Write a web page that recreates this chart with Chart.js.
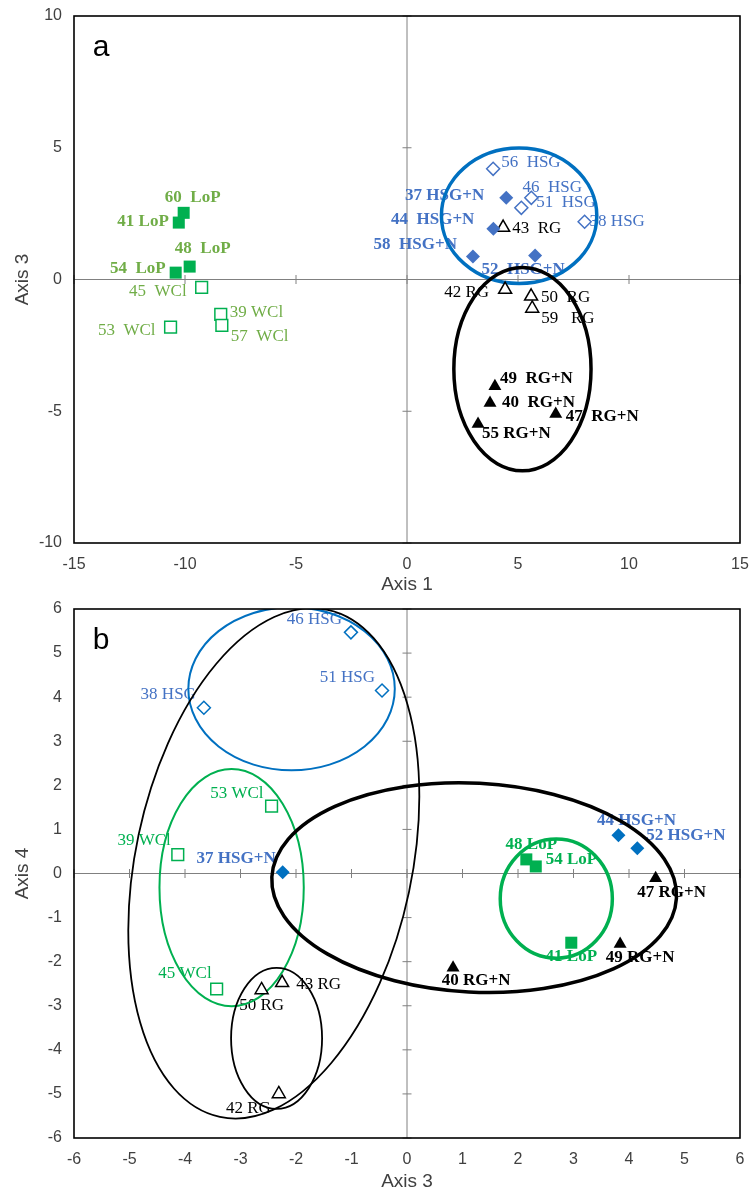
<!DOCTYPE html>
<html>
<head>
<meta charset="utf-8">
<script src="https://cdn.jsdelivr.net/npm/chart.js@4.4.1/dist/chart.umd.min.js"></script>
<style>
    body { margin: 0; background: #fff; width: 751px; height: 1192px; overflow: hidden; }
    .panel { position: absolute; left: 0; width: 751px; }
    #wrapA { top: 0; height: 595px; }
    #wrapB { top: 595px; height: 597px; }
</style>
</head>
<body>
<div class="panel" id="wrapA"><canvas id="chartA" width="751" height="595"></canvas></div>
<div class="panel" id="wrapB"><canvas id="chartB" width="751" height="597"></canvas></div>
<script>
// ---- panel a: Axis 1 vs Axis 3 ----
const aLoPLabels = ['60  LoP', '41 LoP', '48  LoP', '54  LoP'];
const aLoPAxis1 = [-10.06, -10.28, -9.79, -10.42];
const aLoPAxis3 = [2.53, 2.16, 0.49, 0.26];

const aWClLabels = ['45  WCl', '39 WCl', '57  WCl', '53  WCl'];
const aWClAxis1 = [-9.25, -8.39, -8.34, -10.65];
const aWClAxis3 = [-0.3, -1.32, -1.74, -1.81];

const aHSGLabels = ['56  HSG', '46  HSG', '51  HSG', '38 HSG'];
const aHSGAxis1 = [3.88, 5.6, 5.15, 8.0];
const aHSGAxis3 = [4.2, 3.1, 2.72, 2.19];

const aHSGNLabels = ['37 HSG+N', '44  HSG+N', '58  HSG+N', '52  HSG+N'];
const aHSGNAxis1 = [4.47, 3.89, 2.97, 5.77];
const aHSGNAxis3 = [3.1, 1.93, 0.87, 0.91];

const aRGLabels = ['43  RG', '42 RG', '50  RG', '59   RG'];
const aRGAxis1 = [4.33, 4.42, 5.59, 5.64];
const aRGAxis3 = [1.97, -0.38, -0.64, -1.1];

const aRGNLabels = ['49  RG+N', '40  RG+N', '47  RG+N', '55 RG+N'];
const aRGNAxis1 = [3.96, 3.74, 6.7, 3.2];
const aRGNAxis3 = [-4.05, -4.69, -5.1, -5.48];

// ellipses: centre x, centre y, half width, half height (data units), tilt in degrees
const aEllipseHSG = [5.05, 2.42, 3.5, 2.57, 0];
const aEllipseRG = [5.2, -3.4, 3.09, 3.86, 0];

// ---- panel b: Axis 3 vs Axis 4 ----
const bHSGLabels = ['46 HSG', '51 HSG', '38 HSG'];
const bHSGAxis3 = [-1.01, -0.45, -3.66];
const bHSGAxis4 = [5.47, 4.15, 3.76];

const bWClLabels = ['53 WCl', '39 WCl', '45 WCl'];
const bWClAxis3 = [-2.44, -4.13, -3.43];
const bWClAxis4 = [1.53, 0.43, -2.62];

const bHSGNLabels = ['37 HSG+N', '44 HSG+N', '52 HSG+N'];
const bHSGNAxis3 = [-2.24, 3.81, 4.15];
const bHSGNAxis4 = [0.03, 0.87, 0.57];

const bRGLabels = ['50 RG', '43 RG', '42 RG'];
const bRGAxis3 = [-2.62, -2.25, -2.31];
const bRGAxis4 = [-2.64, -2.48, -5.0];

const bLoPLabels = ['48 LoP', '54 LoP', '41 LoP'];
const bLoPAxis3 = [2.15, 2.32, 2.96];
const bLoPAxis4 = [0.32, 0.16, -1.57];

const bRGNLabels = ['47 RG+N', '49 RG+N', '40 RG+N'];
const bRGNAxis3 = [4.48, 3.84, 0.83];
const bRGNAxis4 = [-0.11, -1.6, -2.14];

const bEllipseHSG = [-2.08, 4.19, 1.86, 1.85, 0];
const bEllipseWCl = [-3.16, -0.32, 1.3, 2.69, 0];
const bEllipseRG = [-2.35, -3.74, 0.82, 1.6, 0];
const bEllipseBig = [-2.4, 0.23, 2.49, 5.88, 12];
const bEllipseN = [1.21, -0.32, 3.65, 2.37, 3];
const bEllipseLoP = [2.69, -0.57, 1.01, 1.35, 0];

// label placement next to each point: dx, dy (px), alignment
const aLoPPos = [[9, -15, 'center'], [-10, -1, 'right'], [13, -18, 'center'], [-10, -4, 'right']];
const aWClPos = [[-15, 4, 'right'], [9, -2, 'left'], [9, 11, 'left'], [-15, 3, 'right']];
const aHSGPos = [[8, -6, 'left'], [21, -10, 'center'], [15, -5, 'left'], [5, 0, 'left']];
const aHSGNPos = [[-22, -2, 'right'], [-19, -9, 'right'], [-16, -12, 'right'], [-12, 14, 'center']];
const aRGPos = [[9, 1, 'left'], [-16, 3, 'right'], [10, 1, 'left'], [9, 10, 'left']];
const aRGNPos = [[5, -8, 'left'], [12, 0, 'left'], [10, 3, 'left'], [4, 10, 'left']];

const bHSGPos = [[-9, -13, 'right'], [-7, -13, 'right'], [-8, -13, 'right']];
const bWClPos = [[-8, -13, 'right'], [-7, -14, 'right'], [-5, -15, 'right']];
const bHSGNPos = [[-7, -14, 'right'], [18, -15, 'center'], [9, -13, 'left']];
const bRGPos = [[0, 16, 'center'], [14, 2, 'left'], [-8, 15, 'right']];
const bLoPPos = [[5, -15, 'center'], [10, -7, 'left'], [0, 14, 'center']];
const bRGNPos = [[16, 14, 'center'], [20, 14, 'center'], [23, 13, 'center']];

const GREEN = '#00B050';
const GREEN_TXT = '#70AD47';
const BLUE = '#4472C4';
const BLUE_DARK = '#0070C0';

function pts(xs, ys) {
    return xs.map((v, i) => ({ x: v, y: ys[i] }));
}

function group(xs, ys, labels, pos, style) {
    return Object.assign({
        data: pts(xs, ys),
        pointLabels: labels,
        labelPos: pos,
        showLine: false
    }, style);
}

const filledSquare = (c) => ({ pointStyle: 'rect', pointRadius: 8.5, pointBackgroundColor: c, pointBorderColor: c, pointBorderWidth: 0 });
const openSquare = (c) => ({ pointStyle: 'rect', pointRadius: 8.3, pointBackgroundColor: '#fff', pointBorderColor: c, pointBorderWidth: 1.5 });
const filledDiamond = (c) => ({ pointStyle: 'rectRot', pointRadius: 7, pointBackgroundColor: c, pointBorderColor: c, pointBorderWidth: 0 });
const openDiamond = (c) => ({ pointStyle: 'rectRot', pointRadius: 6.5, pointBackgroundColor: '#fff', pointBorderColor: c, pointBorderWidth: 1.5 });
const filledTriangle = { pointStyle: 'triangle', pointRadius: 7.5, pointBackgroundColor: '#000', pointBorderColor: '#000', pointBorderWidth: 0 };
const openTriangle = { pointStyle: 'triangle', pointRadius: 7.5, pointBackgroundColor: '#fff', pointBorderColor: '#000', pointBorderWidth: 1.5 };

// zero lines, cross ticks, labels, ellipses, frame, panel letter
const plotDecor = {
    id: 'plotDecor',
    beforeDatasetsDraw(chart, args, opts) {
        const { ctx, chartArea: a, scales: { x, y } } = chart;
        const x0 = x.getPixelForValue(0);
        const y0 = y.getPixelForValue(0);
        ctx.save();
        ctx.strokeStyle = '#808080';
        ctx.lineWidth = 1;
        ctx.beginPath();
        ctx.moveTo(a.left, y0); ctx.lineTo(a.right, y0);
        ctx.moveTo(x0, a.top); ctx.lineTo(x0, a.bottom);
        x.ticks.forEach(t => {
            const px = x.getPixelForValue(t.value);
            ctx.moveTo(px, y0 - 4.5); ctx.lineTo(px, y0 + 4.5);
        });
        y.ticks.forEach(t => {
            const py = y.getPixelForValue(t.value);
            ctx.moveTo(x0 - 4.5, py); ctx.lineTo(x0 + 4.5, py);
        });
        ctx.stroke();

        // point labels
        ctx.textBaseline = 'middle';
        chart.data.datasets.forEach(ds => {
            ctx.fillStyle = ds.labelColor;
            ctx.font = (ds.labelBold ? 'bold ' : '') + '17px "Liberation Serif", "Times New Roman", serif';
            ds.data.forEach((p, i) => {
                const [dx, dy, al] = ds.labelPos[i];
                ctx.textAlign = al;
                ctx.fillText(ds.pointLabels[i], x.getPixelForValue(p.x) + dx, y.getPixelForValue(p.y) + dy);
            });
        });

        // ellipses
        ctx.beginPath();
        ctx.rect(a.left, a.top, a.right - a.left, a.bottom - a.top);
        ctx.clip();
        opts.ellipses.forEach(e => {
            const [cx, cy, rx, ry, rot] = e.shape;
            const px = x.getPixelForValue(cx);
            const py = y.getPixelForValue(cy);
            const rpx = Math.abs(x.getPixelForValue(cx + rx) - px);
            const rpy = Math.abs(y.getPixelForValue(cy + ry) - py);
            ctx.beginPath();
            ctx.ellipse(px, py, rpx, rpy, rot * Math.PI / 180, 0, Math.PI * 2);
            ctx.strokeStyle = e.color;
            ctx.lineWidth = e.width;
            ctx.stroke();
        });
        ctx.restore();
    },
    afterDraw(chart, args, opts) {
        const { ctx, chartArea: a } = chart;
        ctx.save();
        ctx.strokeStyle = '#000';
        ctx.lineWidth = 1.6;
        ctx.strokeRect(a.left, a.top, a.right - a.left, a.bottom - a.top);
        ctx.fillStyle = '#000';
        ctx.font = '30px "Liberation Sans", Arial, sans-serif';
        ctx.textAlign = 'center';
        ctx.textBaseline = 'middle';
        ctx.fillText(opts.letter, a.left + 27, a.top + 32);
        ctx.restore();
    }
};

function makeChart(canvasId, datasets, cfg) {
    const tickFont = { family: '"Liberation Sans", Arial, sans-serif', size: 16 };
    const titleFont = { family: '"Liberation Sans", Arial, sans-serif', size: 19, lineHeight: 1 };
    return new Chart(document.getElementById(canvasId), {
        type: 'scatter',
        data: { datasets: datasets },
        options: {
            responsive: false,
            animation: false,
            events: [],
            layout: { padding: { top: cfg.top, right: 11, left: 0, bottom: 0 } },
            plugins: {
                legend: { display: false },
                tooltip: { enabled: false },
                plotDecor: { letter: cfg.letter, ellipses: cfg.ellipses }
            },
            scales: {
                x: {
                    type: 'linear',
                    min: cfg.xMin, max: cfg.xMax,
                    afterFit: (s) => { s.height = cfg.xHeight; s.paddingLeft = 0; s.paddingRight = 0; },
                    grid: { display: false, drawTicks: false },
                    border: { display: false },
                    ticks: { stepSize: cfg.xStep, font: tickFont, color: '#404040', padding: 12 },
                    title: { display: true, text: cfg.xTitle, font: titleFont, color: '#404040', padding: { top: 0, bottom: 1 } }
                },
                y: {
                    type: 'linear',
                    min: cfg.yMin, max: cfg.yMax,
                    afterFit: (s) => { s.width = 74; s.paddingTop = 0; s.paddingBottom = 0; },
                    grid: { display: false, drawTicks: false },
                    border: { display: false },
                    ticks: { stepSize: cfg.yStep, font: tickFont, color: '#404040', padding: 12 },
                    title: { display: true, text: cfg.yTitle, font: titleFont, color: '#404040', padding: { top: 13, bottom: 0 } }
                }
            }
        },
        plugins: [plotDecor]
    });
}

makeChart('chartA', [
    group(aLoPAxis1, aLoPAxis3, aLoPLabels, aLoPPos, Object.assign({ labelColor: GREEN_TXT, labelBold: true }, filledSquare(GREEN))),
    group(aWClAxis1, aWClAxis3, aWClLabels, aWClPos, Object.assign({ labelColor: GREEN_TXT, labelBold: false }, openSquare(GREEN))),
    group(aHSGAxis1, aHSGAxis3, aHSGLabels, aHSGPos, Object.assign({ labelColor: BLUE, labelBold: false }, openDiamond(BLUE))),
    group(aHSGNAxis1, aHSGNAxis3, aHSGNLabels, aHSGNPos, Object.assign({ labelColor: BLUE, labelBold: true }, filledDiamond(BLUE))),
    group(aRGAxis1, aRGAxis3, aRGLabels, aRGPos, Object.assign({ labelColor: '#000', labelBold: false }, openTriangle)),
    group(aRGNAxis1, aRGNAxis3, aRGNLabels, aRGNPos, Object.assign({ labelColor: '#000', labelBold: true }, filledTriangle))
], {
    letter: 'a', top: 16, xHeight: 52,
    xMin: -15, xMax: 15, xStep: 5, yMin: -10, yMax: 10, yStep: 5,
    xTitle: 'Axis 1', yTitle: 'Axis 3',
    ellipses: [
        { shape: aEllipseHSG, color: BLUE_DARK, width: 3.5 },
        { shape: aEllipseRG, color: '#000', width: 3.5 }
    ]
});

makeChart('chartB', [
    group(bHSGAxis3, bHSGAxis4, bHSGLabels, bHSGPos, Object.assign({ labelColor: BLUE, labelBold: false }, openDiamond(BLUE_DARK))),
    group(bWClAxis3, bWClAxis4, bWClLabels, bWClPos, Object.assign({ labelColor: GREEN, labelBold: false }, openSquare(GREEN))),
    group(bHSGNAxis3, bHSGNAxis4, bHSGNLabels, bHSGNPos, Object.assign({ labelColor: BLUE, labelBold: true }, filledDiamond(BLUE_DARK))),
    group(bRGAxis3, bRGAxis4, bRGLabels, bRGPos, Object.assign({ labelColor: '#000', labelBold: false }, openTriangle)),
    group(bLoPAxis3, bLoPAxis4, bLoPLabels, bLoPPos, Object.assign({ labelColor: GREEN, labelBold: true }, filledSquare(GREEN))),
    group(bRGNAxis3, bRGNAxis4, bRGNLabels, bRGNPos, Object.assign({ labelColor: '#000', labelBold: true }, filledTriangle))
], {
    letter: 'b', top: 14, xHeight: 54,
    xMin: -6, xMax: 6, xStep: 1, yMin: -6, yMax: 6, yStep: 1,
    xTitle: 'Axis 3', yTitle: 'Axis 4',
    ellipses: [
        { shape: bEllipseHSG, color: BLUE_DARK, width: 2 },
        { shape: bEllipseWCl, color: GREEN, width: 2 },
        { shape: bEllipseRG, color: '#000', width: 1.8 },
        { shape: bEllipseBig, color: '#000', width: 1.8 },
        { shape: bEllipseN, color: '#000', width: 3.5 },
        { shape: bEllipseLoP, color: GREEN, width: 3.5 }
    ]
});
</script>
</body>
</html>
